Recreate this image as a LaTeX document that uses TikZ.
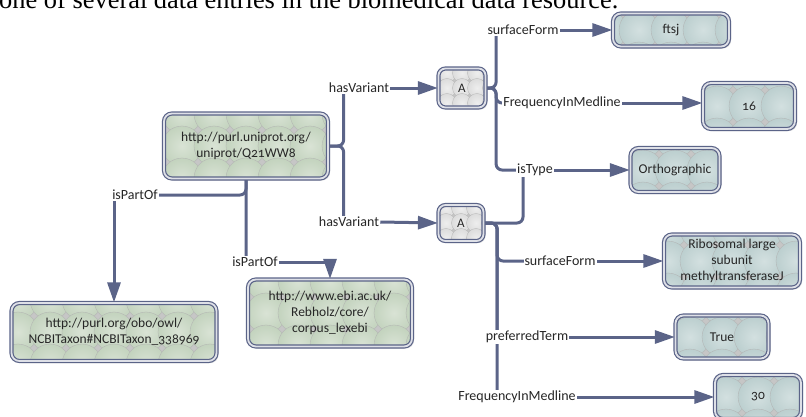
\documentclass[tikz,border=0pt]{standalone}
\usepackage{fontspec}
\setmainfont{Liberation Serif}
\newfontfamily\cf[Numbers=OldStyle]{Carlito}
\usetikzlibrary{arrows.meta,shadows,calc}
\pgfdeclarelayer{bg}
\pgfsetlayers{bg,main}
\definecolor{edgec}{HTML}{5B6488}
\definecolor{greenc}{HTML}{C3D3BE}
\definecolor{greenl}{HTML}{D9E3D5}
\definecolor{bluec}{HTML}{BCCFCF}
\definecolor{bluel}{HTML}{D3E0E0}
\definecolor{greyc}{HTML}{DCDCDC}
\definecolor{greyl}{HTML}{EEEEEE}
\definecolor{bgc}{HTML}{C6C6C6}
\definecolor{txt}{HTML}{262626}
\tikzset{
  box/.style={draw=edgec, line width=1.2pt, double=white!80!edgec, double distance=1.8pt,
    rounded corners=8pt, fill=bgc, align=center, text=txt, inner sep=2pt,
    font=\cf\fontsize{13.5}{16}\selectfont,
    drop shadow={opacity=0.25, shadow xshift=2pt, shadow yshift=-2pt}},
  circles/.style n args={4}{path picture={
    \foreach \i in {-4,...,4}{\foreach \j in {-2,...,2}{
      \shadedraw[inner color=#2, outer color=#1, draw=gray!60, line width=0.3pt]
        ($(path picture bounding box.center)+(\i*#3,\j*#3)$) circle (#4);
    }}}},
  gbox/.style={box, circles={greenc}{greenl}{32}{20pt}},
  bbox/.style={box, circles={bluec}{bluel}{32}{20pt}},
  abox/.style={box, rounded corners=7pt, circles={greyc}{greyl}{15}{9.5pt}, font=\cf\fontsize{13}{14}\selectfont},
  lab/.style={fill=white, inner sep=1pt, text=txt, font=\cf\fontsize{14}{16}\selectfont},
  edge/.style={draw=edgec, line width=3pt, rounded corners=6pt},
  arr/.style={draw=edgec, line width=3pt, -{Triangle[length=20pt,width=13pt]}},
}
\begin{document}
\begin{tikzpicture}[x=1pt,y=-1pt]
\clip (0,0) rectangle (806,416);
\useasboundingbox (0,0) rectangle (806,416);
% cut-off caption line
\node[anchor=base west, inner sep=0pt, text=black] (cap) at (-1,8.5)
  {\resizebox{619pt}{!}{one of several data entries in the biomedical data resource.}};
% boxes
\node[gbox, minimum width=164pt, minimum height=65pt] (uni) at (246,146) {http://purl.uniprot.org/\\uniprot/Q21WW8};
\node[gbox, minimum width=205pt, minimum height=58pt] (ncbi) at (114,332) {http://purl.org/obo/owl/\\NCBITaxon\#NCBITaxon\_338969};
\node[gbox, minimum width=164pt, minimum height=67pt] (ebi) at (330,313) {http://www.ebi.ac.uk/\\Rebholz/core/\\corpus\_lexebi};
\node[abox, minimum width=47pt, minimum height=39pt] (A1) at (462,88) {A};
\node[abox, minimum width=45pt, minimum height=36pt] (A2) at (461,223) {A};
\node[bbox, minimum width=116pt, minimum height=33pt] (ftsj) at (671,30) {ftsj};
\node[bbox, minimum width=92pt, minimum height=46pt] (n16) at (749,106) {16};
\node[bbox, minimum width=89pt, minimum height=44pt] (ortho) at (675,170) {Orthographic};
\node[bbox, minimum width=136pt, minimum height=53pt] (ribo) at (732,261) {Ribosomal large\\subunit\\methyltransferaseJ};
\node[bbox, minimum width=93pt, minimum height=43pt] (true) at (722,337) {True};
\node[bbox, minimum width=86pt, minimum height=44pt] (n30) at (758,397) {30};
% labels
\node[lab] (hv1) at (359,88) {hasVariant};
\node[lab] (hv2) at (349,222) {hasVariant};
\node[lab] (ip1) at (135,195) {isPartOf};
\node[lab] (ip2) at (255,262) {isPartOf};
\node[lab] (sf1) at (523,30) {surfaceForm};
\node[lab] (fm1) at (562,103) {FrequencyInMedline};
\node[lab] (it) at (535,170) {isType};
\node[lab] (sf2) at (560,261) {surfaceForm};
\node[lab] (pt) at (527,337) {preferredTerm};
\node[lab] (fm2) at (517,397) {FrequencyInMedline};
% connectors
\begin{pgfonlayer}{bg}
\draw[edge] (uni.east) -- ++(15,0) |- (hv1.center);
\draw[edge] (uni.east) -- ++(15,0) |- (hv2.center);
\draw[arr] (hv1.east) -- (A1.west);
\draw[arr] (hv2.east) -- (A2.west);
\draw[edge] (uni.south) |- (ip1.center);
\draw[arr] (ip1.south -| ncbi.north) -- (ncbi.north);
\draw[edge] (uni.south) |- (ip2.center);
\draw[arr] (ip2.east) -| (ebi.north);
\draw[edge] (A1.east) -- ++(10,0) |- (sf1.center);
\draw[arr] (sf1.east) -- (ftsj.west);
\draw[edge] (A1.east) -- ++(10,0) |- (fm1.center);
\draw[arr] (fm1.east) -- (n16.west |- fm1.east);
\draw[edge] (A1.east) -- ++(10,0) |- (it.center);
\draw[edge] (A2.east) -| ([xshift=-12pt]it.south);
\draw[arr] (it.east) -- (ortho.west);
\draw[edge] (A2.east) -- ++(13,0) |- (sf2.center);
\draw[arr] (sf2.east) -- (ribo.west);
\draw[edge] (A2.east) -- ++(13,0) |- (pt.center);
\draw[arr] (pt.east) -- (true.west);
\draw[edge] (A2.east) -- ++(13,0) |- (fm2.center);
\draw[arr] (fm2.east) -- (n30.west);
\end{pgfonlayer}
\end{tikzpicture}
\end{document}
